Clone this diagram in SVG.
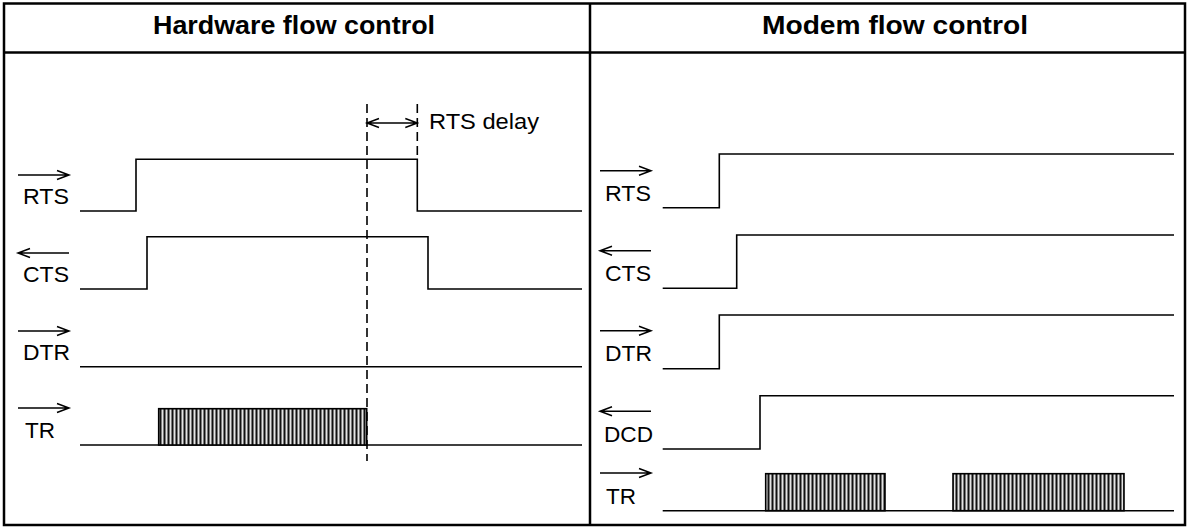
<svg xmlns="http://www.w3.org/2000/svg" width="1189" height="528" viewBox="0 0 1189 528">
  <style>
    .frame{fill:none;stroke:#000;stroke-width:2.5}
    .sig{fill:none;stroke:#000;stroke-width:1.6}
    .dash{fill:none;stroke:#000;stroke-width:1.6;stroke-dasharray:9 5}
    .arr{fill:none;stroke:#000;stroke-width:1.5}
    .title{font-family:"Liberation Sans",Arial,sans-serif;font-size:25px;font-weight:bold;fill:#000}
    .lbl{font-family:"Liberation Sans",Arial,sans-serif;font-size:22px;fill:#000}
    .blk{fill:url(#hatch);stroke:#000;stroke-width:1.6}
  </style>
  <defs>
    <pattern id="hatch" patternUnits="userSpaceOnUse" width="4" height="10">
      <rect x="0" y="0" width="4" height="10" fill="#7a7a7a"/>
      <rect x="0" y="0" width="1" height="10" fill="#111"/>
      <rect x="2" y="0" width="0.8" height="10" fill="#fff"/>
    </pattern>
    <g id="ar">
      <path d="M0,0 H51 M39,-4.5 L51,0 L39,4.5"/>
    </g>
    <g id="al">
      <path d="M0,0 H51 M12,-4.5 L0,0 L12,4.5"/>
    </g>
  </defs>

  <g id="frame">
    <rect class="frame" x="4" y="3.5" width="1181" height="521.5"/>
    <line class="frame" x1="4" y1="52.5" x2="1185" y2="52.5"/>
    <line class="frame" x1="590" y1="3.5" x2="590" y2="525"/>
  </g>

  <g id="titles">
    <text class="title" x="294" y="34" text-anchor="middle" textLength="282" lengthAdjust="spacingAndGlyphs">Hardware flow control</text>
    <text class="title" x="895" y="34" text-anchor="middle" textLength="266" lengthAdjust="spacingAndGlyphs">Modem flow control</text>
  </g>

  <g id="hw-labels" class="arr">
    <use href="#ar" x="18" y="175"/>
    <use href="#al" x="18" y="253"/>
    <use href="#ar" x="18" y="331"/>
    <use href="#ar" x="18" y="408"/>
  </g>
  <g id="hw-label-text">
    <text class="lbl" x="23" y="204" textLength="46" lengthAdjust="spacingAndGlyphs">RTS</text>
    <text class="lbl" x="23" y="282" textLength="46" lengthAdjust="spacingAndGlyphs">CTS</text>
    <text class="lbl" x="23" y="360" textLength="47" lengthAdjust="spacingAndGlyphs">DTR</text>
    <text class="lbl" x="25" y="437.5" textLength="30" lengthAdjust="spacingAndGlyphs">TR</text>
  </g>

  <g id="hw-signals">
    <g id="hw-rts"><path class="sig" d="M80,211 H136 V159.3 H417.3 V211 H582"/></g>
    <g id="hw-cts"><path class="sig" d="M80,289 H147 V236.7 H428 V289 H582"/></g>
    <g id="hw-dtr"><path class="sig" d="M80,366.7 H582"/></g>
    <g id="hw-tr">
      <path class="sig" d="M80,445 H582"/>
      <rect class="blk" x="158.7" y="408.7" width="208" height="36.3"/>
    </g>
  </g>

  <g id="rts-delay">
    <line class="dash" x1="367" y1="104" x2="367" y2="461"/>
    <line class="dash" x1="417.3" y1="104" x2="417.3" y2="159"/>
    <path class="arr" d="M367,123 H417.3 M379,118.5 L367,123 L379,127.5 M405.3,118.5 L417.3,123 L405.3,127.5"/>
    <text class="lbl" x="429" y="129" textLength="110" lengthAdjust="spacingAndGlyphs">RTS delay</text>
  </g>

  <g id="md-labels" class="arr">
    <use href="#ar" x="600" y="170.7"/>
    <use href="#al" x="600" y="250.7"/>
    <use href="#ar" x="600" y="330.7"/>
    <use href="#al" x="600" y="411.3"/>
    <use href="#ar" x="600" y="473"/>
  </g>
  <g id="md-label-text">
    <text class="lbl" x="605" y="200.7" textLength="46" lengthAdjust="spacingAndGlyphs">RTS</text>
    <text class="lbl" x="605" y="280.7" textLength="46" lengthAdjust="spacingAndGlyphs">CTS</text>
    <text class="lbl" x="605" y="361.3" textLength="47" lengthAdjust="spacingAndGlyphs">DTR</text>
    <text class="lbl" x="604" y="442" textLength="49" lengthAdjust="spacingAndGlyphs">DCD</text>
    <text class="lbl" x="606" y="504" textLength="30" lengthAdjust="spacingAndGlyphs">TR</text>
  </g>

  <g id="md-signals">
    <g id="md-rts"><path class="sig" d="M662.7,207.7 H719.3 V154 H1174"/></g>
    <g id="md-cts"><path class="sig" d="M662.7,288.3 H736.7 V235 H1174"/></g>
    <g id="md-dtr"><path class="sig" d="M662.7,368.7 H719.3 V315 H1174"/></g>
    <g id="md-dcd"><path class="sig" d="M662.7,449 H760 V395.7 H1174"/></g>
    <g id="md-tr">
      <path class="sig" d="M662.7,510.7 H1174"/>
      <rect class="blk" x="765.7" y="473.7" width="119.3" height="37"/>
      <rect class="blk" x="953" y="473.7" width="171" height="37"/>
    </g>
  </g>
</svg>
